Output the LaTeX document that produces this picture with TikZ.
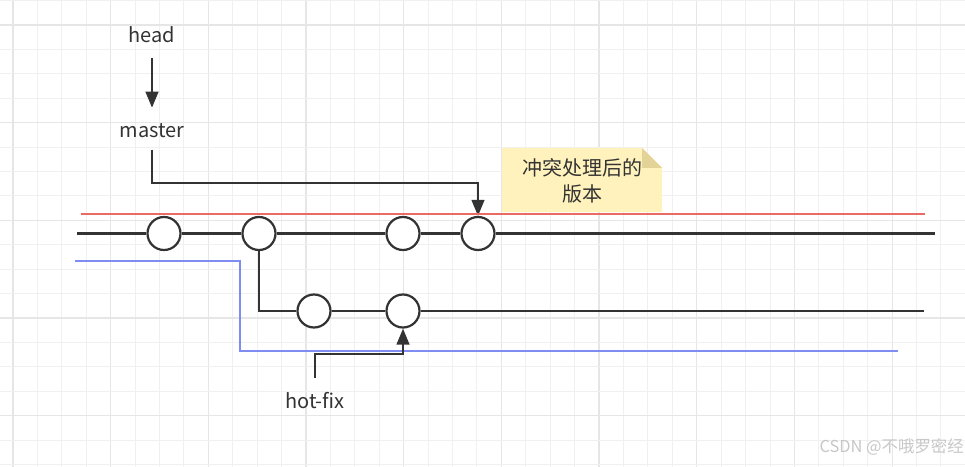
\documentclass[tikz,border=0pt]{standalone}
\usepackage{fontspec}
\setmainfont{Noto Sans CJK SC}
\usetikzlibrary{positioning,arrows.meta}
\definecolor{ink}{HTML}{333333}
\definecolor{gridminor}{HTML}{F0F0F0}
\definecolor{gridmajor}{HTML}{E6E6E6}
\definecolor{redline}{HTML}{EA6B66}
\definecolor{blueline}{HTML}{7F8CF2}
\definecolor{notefill}{HTML}{FFF2BD}
\definecolor{notefold}{HTML}{E3D396}

\begin{document}
\begin{tikzpicture}[
  x=0.75pt, y=-0.75pt,
  font=\fontsize{15}{19.5}\selectfont, text=ink,
  commit/.style={draw=ink,circle,line width=1.65pt,fill=white,minimum size=24.75pt,inner sep=0pt},
  track/.style={draw=ink,line width=1.65pt},
  pointer/.style={track,-{Triangle[length=12pt,width=9.5pt]}},
  tag/.style={inner sep=0pt,text height=11pt,text depth=3pt}
]
\useasboundingbox (0,0) rectangle (965,467);
\fill[white] (0,0) rectangle (965,467);
\foreach \i in {0,...,39} {
  \pgfmathsetmacro\gx{13+24.42*\i}
  \pgfmathtruncatemacro\gm{mod(\i,4)}
  \ifnum\gm=0
    \draw[gridmajor,line width=0.9pt] (\gx,0) -- (\gx,467);
  \else
    \draw[gridminor,line width=0.75pt] (\gx,0) -- (\gx,467);
  \fi
}
\foreach \j in {0,...,19} {
  \pgfmathsetmacro\gy{0.58+24.42*\j}
  \pgfmathtruncatemacro\gm{mod(\j,4)}
  \ifnum\gm=1
    \draw[gridmajor,line width=0.9pt] (0,\gy) -- (965,\gy);
  \else
    \draw[gridminor,line width=0.75pt] (0,\gy) -- (965,\gy);
  \fi
}

\node[tag] (head) at (152,37.6) {head};
\node[tag] (master) at (152,132) {master};
\node[tag] (hotfix) at (315,402.7) {hot-fix};

\coordinate (mainL) at (77,233.5);
\coordinate (mainR) at (935,233.5);
\coordinate (branchR) at (924,311);
\coordinate (redL) at (81,214);
\coordinate (redR) at (925,214);
\coordinate (blueL) at (75,261);
\coordinate (blueM) at (240,351);
\coordinate (blueR) at (898,351);

\node[commit] (c1) at (164,233.5) {};
\node[commit] (c2) at (259,233.5) {};
\node[commit] (c3) at (403,233.5) {};
\node[commit] (c4) at (478,233.5) {};
\node[commit] (b1) at (314,311) {};
\node[commit] (b2) at (403,311) {};

\draw[blueline,line width=1.65pt] (blueL) -| (blueM) -- (blueR);
\draw[track] (mainL) -- (c1) -- (c2) -- (c3) -- (c4) -- (mainR);
\draw[track] (c2) |- (b1) -- (b2) -- (branchR);

\draw[pointer,shorten <=8.25pt,shorten >=11pt] (head) -- (master);
\draw[pointer,shorten <=6pt] (master.south) -- ++(0,41) -| (c4.north);
\draw[pointer,shorten <=11.5pt] (hotfix.north) -- ++(0,-39.3) -| (b2.south);

\fill[notefill] (502,148) -- (642,148) -- (662,168) -- (662,212) -- (502,212) -- cycle;
\fill[notefold] (642,148) -- (662,168) -- (642,168) -- cycle;
\node[align=center,inner sep=0pt] (note) at (582,181) {冲突处理后的\\版本};

\draw[redline,line width=1.65pt] (redL) -- (redR);

\node[anchor=east,inner sep=0pt,text=black!22,font=\fontsize{12.3}{14}\selectfont] (mark) at (964,447) {CSDN @不哦罗密经};
\end{tikzpicture}
\end{document}
